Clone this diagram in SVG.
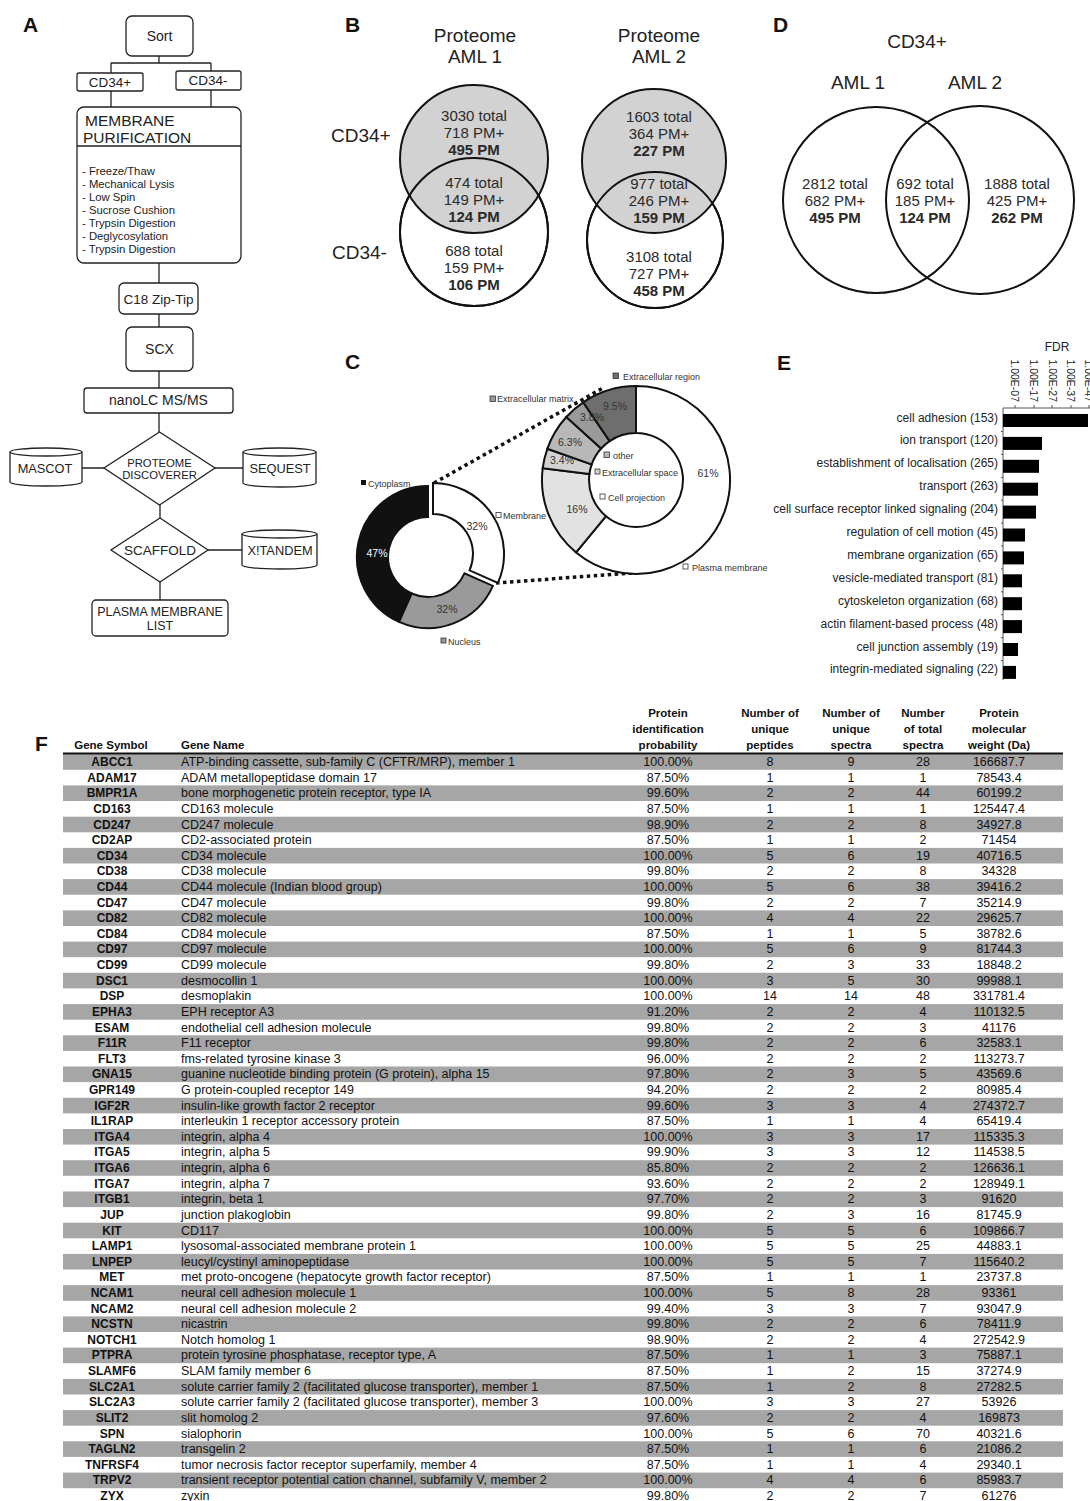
<svg xmlns="http://www.w3.org/2000/svg" width="1090" height="1501" viewBox="0 0 1090 1501">
<style>
.t{font-family:'Liberation Sans',Arial,sans-serif;fill:#222}
.lbl{font-family:'Liberation Sans',Arial,sans-serif;font-weight:bold;font-size:21px;fill:#111}
.box{fill:#fff;stroke:#222;stroke-width:1.3}
.conn{stroke:#222;stroke-width:1.3;fill:none}
.mid{text-anchor:middle}
.v{font-family:'Liberation Sans',Arial,sans-serif;font-size:15px;fill:#2a2a2a;text-anchor:middle}
.vb{font-weight:bold}
.c{font-family:'Liberation Sans',Arial,sans-serif;font-size:9px;fill:#333}
.pc{font-family:'Liberation Sans',Arial,sans-serif;font-size:10.5px;fill:#333;text-anchor:middle}
.sl{stroke:#111;stroke-width:2}
.e{font-family:'Liberation Sans',Arial,sans-serif;font-size:12px;fill:#222;text-anchor:end}
.tk{font-family:'Liberation Sans',Arial,sans-serif;font-size:10.5px;fill:#222;text-anchor:end}
.tb{font-family:'Liberation Sans',Arial,sans-serif;font-size:12.5px;fill:#111}
.sy{font-weight:bold;text-anchor:middle;font-size:12px}
.n{text-anchor:middle}
.hd{font-family:'Liberation Sans',Arial,sans-serif;font-size:11.5px;font-weight:bold;fill:#111;text-anchor:middle}
.sh{fill:#a6a6a6}
</style>
<rect width="1090" height="1501" fill="#fff"/>

<!-- Panel letters -->
<text class="lbl" x="23" y="32">A</text>
<text class="lbl" x="345" y="32">B</text>
<text class="lbl" x="773" y="32">D</text>
<text class="lbl" x="345" y="369">C</text>
<text class="lbl" x="777" y="370">E</text>
<text class="lbl" x="35" y="751">F</text>

<!-- Panel A connectors -->
<g id="connectors">
<path class="conn" d="M159,56 V63 M111,63 H211 M111,63 V73 M211,63 V71"/>
<path class="conn" d="M111,91 V107 M211,90 V107"/>
<path class="conn" d="M159,263 V283 M159,314 V327 M159,371 V388 M159,413 V432"/>
<path class="conn" d="M82,468 H104 M215,468 H243"/>
<path class="conn" d="M160,505 V518 M208,550 H242 M160,582 V600"/>
</g>

<!-- Panel A nodes -->
<g id="sort"><rect class="box" x="126" y="16" width="67" height="40" rx="6"/><text class="t mid" x="159.5" y="41" font-size="14">Sort</text></g>
<g id="cd34pos"><rect class="box" x="77" y="73" width="66" height="18" rx="2"/><text class="t mid" x="110" y="87" font-size="13.5">CD34+</text></g>
<g id="cd34neg"><rect class="box" x="176" y="71" width="65" height="19" rx="2"/><text class="t mid" x="208" y="85" font-size="13.5">CD34-</text></g>
<g id="membrane-purification">
<rect class="box" x="77" y="107" width="164" height="156" rx="7"/>
<line x1="77" y1="146" x2="241" y2="146" stroke="#222" stroke-width="1.3"/>
<text class="t" x="85" y="126" font-size="15.5">MEMBRANE</text>
<text class="t" x="83" y="143" font-size="15.5">PURIFICATION</text>
<g class="t" font-size="11.3">
<text x="82" y="175">- Freeze/Thaw</text>
<text x="82" y="188">- Mechanical Lysis</text>
<text x="82" y="201">- Low Spin</text>
<text x="82" y="214">- Sucrose Cushion</text>
<text x="82" y="227">- Trypsin Digestion</text>
<text x="82" y="240">- Deglycosylation</text>
<text x="82" y="253">- Trypsin Digestion</text>
</g>
</g>
<g id="c18"><rect class="box" x="119" y="283" width="79" height="31" rx="5"/><text class="t mid" x="158.5" y="304" font-size="13.5">C18 Zip-Tip</text></g>
<g id="scx"><rect class="box" x="126" y="327" width="67" height="44" rx="6"/><text class="t mid" x="159.5" y="354" font-size="14">SCX</text></g>
<g id="nanolc"><rect class="box" x="84" y="388" width="149" height="25" rx="3"/><text class="t mid" x="158.5" y="405" font-size="14">nanoLC MS/MS</text></g>
<g id="proteome-discoverer"><polygon class="box" points="159.5,432 215,468 159.5,505 104,468"/><text class="t mid" x="159.5" y="467" font-size="11.3">PROTEOME</text><text class="t mid" x="159.5" y="479" font-size="11.3">DISCOVERER</text></g>
<g id="mascot"><path class="box" d="M10,452 A36,4 0 0 1 82,452 L82,482 A36,4 0 0 1 10,482 Z"/><path class="conn" d="M10,452 A36,4 0 0 0 82,452"/><text class="t mid" x="45" y="473" font-size="12.8">MASCOT</text></g>
<g id="sequest"><path class="box" d="M243,452 A36.5,4 0 0 1 316,452 L316,483 A36.5,4 0 0 1 243,483 Z"/><path class="conn" d="M243,452 A36.5,4 0 0 0 316,452"/><text class="t mid" x="280" y="473" font-size="12.8">SEQUEST</text></g>
<g id="scaffold"><polygon class="box" points="160,518 208,550 160,582 111,550"/><text class="t mid" x="160" y="555" font-size="13.5">SCAFFOLD</text></g>
<g id="xtandem"><path class="box" d="M242,534 A37.5,4 0 0 1 317,534 L317,565 A37.5,4 0 0 1 242,565 Z"/><path class="conn" d="M242,534 A37.5,4 0 0 0 317,534"/><text class="t mid" x="280" y="555" font-size="12.8">X!TANDEM</text></g>
<g id="pm-list"><rect class="box" x="92" y="600" width="136" height="36" rx="4"/><text class="t mid" x="160" y="616" font-size="12.5">PLASMA MEMBRANE</text><text class="t mid" x="160" y="630" font-size="12.5">LIST</text></g>

<!-- Panel B -->
<g id="panel-b">
<text class="t mid" x="475" y="42" font-size="19">Proteome</text>
<text class="t mid" x="475" y="63" font-size="19">AML 1</text>
<text class="t mid" x="659" y="42" font-size="19">Proteome</text>
<text class="t mid" x="659" y="63" font-size="19">AML 2</text>
<text class="t" x="331" y="142" font-size="19">CD34+</text>
<text class="t" x="332" y="259" font-size="19">CD34-</text>
<circle cx="474" cy="232" r="74" fill="#fff" stroke="#111" stroke-width="2"/>
<circle cx="474" cy="159" r="74" fill="#d2d2d2" stroke="#111" stroke-width="2"/>
<circle cx="474" cy="232" r="74" fill="none" stroke="#111" stroke-width="2"/>
<circle cx="655" cy="240" r="68" fill="#fff" stroke="#111" stroke-width="2"/>
<circle cx="654" cy="161" r="72" fill="#d2d2d2" stroke="#111" stroke-width="2"/>
<circle cx="655" cy="240" r="68" fill="none" stroke="#111" stroke-width="2"/>
<text class="v" x="474" y="121">3030 total</text>
<text class="v" x="474" y="138">718 PM+</text>
<text class="v vb" x="474" y="155">495 PM</text>
<text class="v" x="474" y="188">474 total</text>
<text class="v" x="474" y="205">149 PM+</text>
<text class="v vb" x="474" y="222">124 PM</text>
<text class="v" x="474" y="256">688 total</text>
<text class="v" x="474" y="273">159 PM+</text>
<text class="v vb" x="474" y="290">106 PM</text>
<text class="v" x="659" y="122">1603 total</text>
<text class="v" x="659" y="139">364 PM+</text>
<text class="v vb" x="659" y="156">227 PM</text>
<text class="v" x="659" y="189">977 total</text>
<text class="v" x="659" y="206">246 PM+</text>
<text class="v vb" x="659" y="223">159 PM</text>
<text class="v" x="659" y="262">3108 total</text>
<text class="v" x="659" y="279">727 PM+</text>
<text class="v vb" x="659" y="296">458 PM</text>
</g>

<!-- Panel D -->
<g id="panel-d">
<text class="t mid" x="917" y="48" font-size="19">CD34+</text>
<text class="t mid" x="858" y="89" font-size="19">AML 1</text>
<text class="t mid" x="975" y="89" font-size="19">AML 2</text>
<circle cx="876" cy="200" r="93" fill="none" stroke="#111" stroke-width="2"/>
<circle cx="980" cy="200" r="94" fill="none" stroke="#111" stroke-width="2"/>
<text class="v" x="835" y="189">2812 total</text>
<text class="v" x="835" y="206">682 PM+</text>
<text class="v vb" x="835" y="223">495 PM</text>
<text class="v" x="925" y="189">692 total</text>
<text class="v" x="925" y="206">185 PM+</text>
<text class="v vb" x="925" y="223">124 PM</text>
<text class="v" x="1017" y="189">1888 total</text>
<text class="v" x="1017" y="206">425 PM+</text>
<text class="v vb" x="1017" y="223">262 PM</text>
</g>

<!-- Panel C -->
<g id="panel-c">
<path d="M434,483 L603,388 M496,583 L645,572" stroke="#111" stroke-width="3.5" stroke-dasharray="3.5 3.5" fill="none"/>
<path class="sl" fill="#111" d="M399.1,621.9 A71,71 0 0 1 428,486 L428,517 A40,40 0 0 0 411.7,593.5 Z"/>
<path class="sl" fill="#9a9a9a" d="M492.9,585.9 A71,71 0 0 1 399.1,621.9 L411.7,593.5 A40,40 0 0 0 464.5,573.3 Z"/>
<path class="sl" fill="#fff" transform="translate(5,-3)" d="M428,486 A71,71 0 0 1 492.9,585.9 L464.5,573.3 A40,40 0 0 0 428,517 Z"/>
<text class="pc" x="377" y="557" style="fill:#fff">47%</text>
<text class="pc" x="477" y="530">32%</text>
<text class="pc" x="447" y="613">32%</text>
<rect x="361" y="480" width="5" height="5" fill="#111"/>
<text class="c" x="368" y="487">Cytoplasm</text>
<rect x="496" y="512.5" width="5" height="5" fill="#fff" stroke="#333" stroke-width="0.8"/>
<text class="c" x="503" y="519">Membrane</text>
<rect x="441" y="638" width="5" height="5" fill="#9a9a9a" stroke="#333" stroke-width="0.8"/>
<text class="c" x="448" y="645">Nucleus</text>

<path class="sl" fill="#fff" d="M636,386 A94,94 0 1 1 576.1,552.4 L606,516.2 A47,47 0 1 0 636,433 Z"/>
<path class="sl" fill="#e2e2e2" d="M576.1,552.4 A94,94 0 0 1 542.7,468.2 L589.4,474.1 A47,47 0 0 0 606,516.2 Z"/>
<path class="sl" fill="#d2d2d2" d="M542.7,468.2 A94,94 0 0 1 547.3,448.8 L591.7,464.4 A47,47 0 0 0 589.4,474.1 Z"/>
<path class="sl" fill="#b8b8b8" d="M547.3,448.8 A94,94 0 0 1 566.3,417 L601.1,448.5 A47,47 0 0 0 591.7,464.4 Z"/>
<path class="sl" fill="#9a9a9a" d="M566.3,417 A94,94 0 0 1 583.2,402.3 L609.6,441.1 A47,47 0 0 0 601.1,448.5 Z"/>
<path class="sl" fill="#6e6e6e" d="M583.2,402.3 A94,94 0 0 1 636,386 L636,433 A47,47 0 0 0 609.6,441.1 Z"/>
<text class="pc" x="615" y="410">9.5%</text>
<text class="pc" x="592" y="421">3.8%</text>
<text class="pc" x="570" y="446">6.3%</text>
<text class="pc" x="562" y="464">3.4%</text>
<text class="pc" x="577" y="513">16%</text>
<text class="pc" x="708" y="477">61%</text>
<rect x="613" y="373" width="5.5" height="5.5" fill="#6e6e6e" stroke="#333" stroke-width="0.8"/>
<text class="c" x="623" y="380">Extracellular region</text>
<rect x="490" y="396" width="5.5" height="5.5" fill="#9a9a9a" stroke="#333" stroke-width="0.8"/>
<text class="c" x="497" y="402">Extracellular matrix</text>
<rect x="604" y="452" width="5.5" height="5.5" fill="#b8b8b8" stroke="#333" stroke-width="0.8"/>
<text class="c" x="613" y="459">other</text>
<rect x="595" y="469" width="5" height="5" fill="#d2d2d2" stroke="#333" stroke-width="0.8"/>
<text class="c" x="602" y="476">Extracellular space</text>
<rect x="600" y="494" width="5" height="5" fill="#fff" stroke="#333" stroke-width="0.8"/>
<text class="c" x="608" y="501">Cell projection</text>
<rect x="683" y="564" width="5" height="5" fill="#fff" stroke="#333" stroke-width="0.8"/>
<text class="c" x="692" y="571">Plasma membrane</text>
</g>

<!-- Panel E -->
<g id="panel-e">
<text class="t mid" x="1057" y="351" font-size="12">FDR</text>
<text class="tk" transform="translate(1011,402) rotate(90)">1.00E-07</text>
<text class="tk" transform="translate(1030,402) rotate(90)">1.00E-17</text>
<text class="tk" transform="translate(1049,402) rotate(90)">1.00E-27</text>
<text class="tk" transform="translate(1067,402) rotate(90)">1.00E-37</text>
<text class="tk" transform="translate(1085,402) rotate(90)">1.00E-47</text>
<path d="M1003,408 H1090 M1015,405 V408 M1034,405 V408 M1052,405 V408 M1071,405 V408 M1089,405 V408 M1003,408 V680" stroke="#555" stroke-width="1" fill="none"/>
<path d="M1001,431.5 H1003 M1001,454.4 H1003 M1001,477.3 H1003 M1001,500.2 H1003 M1001,523.1 H1003 M1001,546 H1003 M1001,568.9 H1003 M1001,591.8 H1003 M1001,614.7 H1003 M1001,637.6 H1003 M1001,660.5 H1003" stroke="#555" stroke-width="1"/>
<g fill="#000">
<rect x="1003" y="414" width="85" height="13"/>
<rect x="1003" y="436.9" width="39" height="13"/>
<rect x="1003" y="459.8" width="36" height="13"/>
<rect x="1003" y="482.7" width="35" height="13"/>
<rect x="1003" y="505.6" width="33" height="13"/>
<rect x="1003" y="528.5" width="22" height="13"/>
<rect x="1003" y="551.4" width="21" height="13"/>
<rect x="1003" y="574.3" width="19" height="13"/>
<rect x="1003" y="597.2" width="19" height="13"/>
<rect x="1003" y="620.1" width="19" height="13"/>
<rect x="1003" y="643" width="15" height="13"/>
<rect x="1003" y="665.9" width="13" height="13"/>
</g>
<text class="e" x="998" y="421.5">cell adhesion (153)</text>
<text class="e" x="998" y="444.4">ion transport (120)</text>
<text class="e" x="998" y="467.3">establishment of localisation (265)</text>
<text class="e" x="998" y="490.2">transport (263)</text>
<text class="e" x="998" y="513.1">cell surface receptor linked signaling (204)</text>
<text class="e" x="998" y="536">regulation of cell motion (45)</text>
<text class="e" x="998" y="558.9">membrane organization (65)</text>
<text class="e" x="998" y="581.8">vesicle-mediated transport (81)</text>
<text class="e" x="998" y="604.7">cytoskeleton organization (68)</text>
<text class="e" x="998" y="627.6">actin filament-based process (48)</text>
<text class="e" x="998" y="650.5">cell junction assembly (19)</text>
<text class="e" x="998" y="673.4">integrin-mediated signaling (22)</text>
</g>

<!-- Panel F table -->
<g id="table">
<text class="hd" x="668" y="717">Protein</text>
<text class="hd" x="668" y="733">identification</text>
<text class="hd" x="668" y="749">probability</text>
<text class="hd" x="770" y="717">Number of</text>
<text class="hd" x="770" y="733">unique</text>
<text class="hd" x="770" y="749">peptides</text>
<text class="hd" x="851" y="717">Number of</text>
<text class="hd" x="851" y="733">unique</text>
<text class="hd" x="851" y="749">spectra</text>
<text class="hd" x="923" y="717">Number</text>
<text class="hd" x="923" y="733">of total</text>
<text class="hd" x="923" y="749">spectra</text>
<text class="hd" x="999" y="717">Protein</text>
<text class="hd" x="999" y="733">molecular</text>
<text class="hd" x="999" y="749">weight (Da)</text>
<text class="hd" x="111" y="749">Gene Symbol</text>
<text class="hd" x="181" y="749" style="text-anchor:start">Gene Name</text>
<g id="shading">
<rect class="sh" x="63" y="754.2" width="1000" height="15.6"/>
<rect class="sh" x="63" y="785.4" width="1000" height="15.6"/>
<rect class="sh" x="63" y="816.7" width="1000" height="15.6"/>
<rect class="sh" x="63" y="847.9" width="1000" height="15.6"/>
<rect class="sh" x="63" y="879.1" width="1000" height="15.6"/>
<rect class="sh" x="63" y="910.4" width="1000" height="15.6"/>
<rect class="sh" x="63" y="941.6" width="1000" height="15.6"/>
<rect class="sh" x="63" y="972.8" width="1000" height="15.6"/>
<rect class="sh" x="63" y="1004.1" width="1000" height="15.6"/>
<rect class="sh" x="63" y="1035.3" width="1000" height="15.6"/>
<rect class="sh" x="63" y="1066.5" width="1000" height="15.6"/>
<rect class="sh" x="63" y="1097.8" width="1000" height="15.6"/>
<rect class="sh" x="63" y="1129" width="1000" height="15.6"/>
<rect class="sh" x="63" y="1160.2" width="1000" height="15.6"/>
<rect class="sh" x="63" y="1191.5" width="1000" height="15.6"/>
<rect class="sh" x="63" y="1222.7" width="1000" height="15.6"/>
<rect class="sh" x="63" y="1253.9" width="1000" height="15.6"/>
<rect class="sh" x="63" y="1285.2" width="1000" height="15.6"/>
<rect class="sh" x="63" y="1316.4" width="1000" height="15.6"/>
<rect class="sh" x="63" y="1347.6" width="1000" height="15.6"/>
<rect class="sh" x="63" y="1378.9" width="1000" height="15.6"/>
<rect class="sh" x="63" y="1410.1" width="1000" height="15.6"/>
<rect class="sh" x="63" y="1441.3" width="1000" height="15.6"/>
<rect class="sh" x="63" y="1472.6" width="1000" height="15.6"/>
</g>
<line x1="63" y1="753.5" x2="1063" y2="753.5" stroke="#111" stroke-width="2"/>
<g class="tb">
<text class="sy" x="112" y="766">ABCC1</text><text x="181" y="766">ATP-binding cassette, sub-family C (CFTR/MRP), member 1</text><text class="n" x="668" y="766">100.00%</text><text class="n" x="770" y="766">8</text><text class="n" x="851" y="766">9</text><text class="n" x="923" y="766">28</text><text class="n" x="999" y="766">166687.7</text>
<text class="sy" x="112" y="781.6">ADAM17</text><text x="181" y="781.6">ADAM metallopeptidase domain 17</text><text class="n" x="668" y="781.6">87.50%</text><text class="n" x="770" y="781.6">1</text><text class="n" x="851" y="781.6">1</text><text class="n" x="923" y="781.6">1</text><text class="n" x="999" y="781.6">78543.4</text>
<text class="sy" x="112" y="797.2">BMPR1A</text><text x="181" y="797.2">bone morphogenetic protein receptor, type IA</text><text class="n" x="668" y="797.2">99.60%</text><text class="n" x="770" y="797.2">2</text><text class="n" x="851" y="797.2">2</text><text class="n" x="923" y="797.2">44</text><text class="n" x="999" y="797.2">60199.2</text>
<text class="sy" x="112" y="812.9">CD163</text><text x="181" y="812.9">CD163 molecule</text><text class="n" x="668" y="812.9">87.50%</text><text class="n" x="770" y="812.9">1</text><text class="n" x="851" y="812.9">1</text><text class="n" x="923" y="812.9">1</text><text class="n" x="999" y="812.9">125447.4</text>
<text class="sy" x="112" y="828.5">CD247</text><text x="181" y="828.5">CD247 molecule</text><text class="n" x="668" y="828.5">98.90%</text><text class="n" x="770" y="828.5">2</text><text class="n" x="851" y="828.5">2</text><text class="n" x="923" y="828.5">8</text><text class="n" x="999" y="828.5">34927.8</text>
<text class="sy" x="112" y="844.1">CD2AP</text><text x="181" y="844.1">CD2-associated protein</text><text class="n" x="668" y="844.1">87.50%</text><text class="n" x="770" y="844.1">1</text><text class="n" x="851" y="844.1">1</text><text class="n" x="923" y="844.1">2</text><text class="n" x="999" y="844.1">71454</text>
<text class="sy" x="112" y="859.7">CD34</text><text x="181" y="859.7">CD34 molecule</text><text class="n" x="668" y="859.7">100.00%</text><text class="n" x="770" y="859.7">5</text><text class="n" x="851" y="859.7">6</text><text class="n" x="923" y="859.7">19</text><text class="n" x="999" y="859.7">40716.5</text>
<text class="sy" x="112" y="875.3">CD38</text><text x="181" y="875.3">CD38 molecule</text><text class="n" x="668" y="875.3">99.80%</text><text class="n" x="770" y="875.3">2</text><text class="n" x="851" y="875.3">2</text><text class="n" x="923" y="875.3">8</text><text class="n" x="999" y="875.3">34328</text>
<text class="sy" x="112" y="890.9">CD44</text><text x="181" y="890.9">CD44 molecule (Indian blood group)</text><text class="n" x="668" y="890.9">100.00%</text><text class="n" x="770" y="890.9">5</text><text class="n" x="851" y="890.9">6</text><text class="n" x="923" y="890.9">38</text><text class="n" x="999" y="890.9">39416.2</text>
<text class="sy" x="112" y="906.6">CD47</text><text x="181" y="906.6">CD47 molecule</text><text class="n" x="668" y="906.6">99.80%</text><text class="n" x="770" y="906.6">2</text><text class="n" x="851" y="906.6">2</text><text class="n" x="923" y="906.6">7</text><text class="n" x="999" y="906.6">35214.9</text>
<text class="sy" x="112" y="922.2">CD82</text><text x="181" y="922.2">CD82 molecule</text><text class="n" x="668" y="922.2">100.00%</text><text class="n" x="770" y="922.2">4</text><text class="n" x="851" y="922.2">4</text><text class="n" x="923" y="922.2">22</text><text class="n" x="999" y="922.2">29625.7</text>
<text class="sy" x="112" y="937.8">CD84</text><text x="181" y="937.8">CD84 molecule</text><text class="n" x="668" y="937.8">87.50%</text><text class="n" x="770" y="937.8">1</text><text class="n" x="851" y="937.8">1</text><text class="n" x="923" y="937.8">5</text><text class="n" x="999" y="937.8">38782.6</text>
<text class="sy" x="112" y="953.4">CD97</text><text x="181" y="953.4">CD97 molecule</text><text class="n" x="668" y="953.4">100.00%</text><text class="n" x="770" y="953.4">5</text><text class="n" x="851" y="953.4">6</text><text class="n" x="923" y="953.4">9</text><text class="n" x="999" y="953.4">81744.3</text>
<text class="sy" x="112" y="969">CD99</text><text x="181" y="969">CD99 molecule</text><text class="n" x="668" y="969">99.80%</text><text class="n" x="770" y="969">2</text><text class="n" x="851" y="969">3</text><text class="n" x="923" y="969">33</text><text class="n" x="999" y="969">18848.2</text>
<text class="sy" x="112" y="984.6">DSC1</text><text x="181" y="984.6">desmocollin 1</text><text class="n" x="668" y="984.6">100.00%</text><text class="n" x="770" y="984.6">3</text><text class="n" x="851" y="984.6">5</text><text class="n" x="923" y="984.6">30</text><text class="n" x="999" y="984.6">99988.1</text>
<text class="sy" x="112" y="1000.3">DSP</text><text x="181" y="1000.3">desmoplakin</text><text class="n" x="668" y="1000.3">100.00%</text><text class="n" x="770" y="1000.3">14</text><text class="n" x="851" y="1000.3">14</text><text class="n" x="923" y="1000.3">48</text><text class="n" x="999" y="1000.3">331781.4</text>
<text class="sy" x="112" y="1015.9">EPHA3</text><text x="181" y="1015.9">EPH receptor A3</text><text class="n" x="668" y="1015.9">91.20%</text><text class="n" x="770" y="1015.9">2</text><text class="n" x="851" y="1015.9">2</text><text class="n" x="923" y="1015.9">4</text><text class="n" x="999" y="1015.9">110132.5</text>
<text class="sy" x="112" y="1031.5">ESAM</text><text x="181" y="1031.5">endothelial cell adhesion molecule</text><text class="n" x="668" y="1031.5">99.80%</text><text class="n" x="770" y="1031.5">2</text><text class="n" x="851" y="1031.5">2</text><text class="n" x="923" y="1031.5">3</text><text class="n" x="999" y="1031.5">41176</text>
<text class="sy" x="112" y="1047.1">F11R</text><text x="181" y="1047.1">F11 receptor</text><text class="n" x="668" y="1047.1">99.80%</text><text class="n" x="770" y="1047.1">2</text><text class="n" x="851" y="1047.1">2</text><text class="n" x="923" y="1047.1">6</text><text class="n" x="999" y="1047.1">32583.1</text>
<text class="sy" x="112" y="1062.7">FLT3</text><text x="181" y="1062.7">fms-related tyrosine kinase 3</text><text class="n" x="668" y="1062.7">96.00%</text><text class="n" x="770" y="1062.7">2</text><text class="n" x="851" y="1062.7">2</text><text class="n" x="923" y="1062.7">2</text><text class="n" x="999" y="1062.7">113273.7</text>
<text class="sy" x="112" y="1078.3">GNA15</text><text x="181" y="1078.3">guanine nucleotide binding protein (G protein), alpha 15</text><text class="n" x="668" y="1078.3">97.80%</text><text class="n" x="770" y="1078.3">2</text><text class="n" x="851" y="1078.3">3</text><text class="n" x="923" y="1078.3">5</text><text class="n" x="999" y="1078.3">43569.6</text>
<text class="sy" x="112" y="1094">GPR149</text><text x="181" y="1094">G protein-coupled receptor 149</text><text class="n" x="668" y="1094">94.20%</text><text class="n" x="770" y="1094">2</text><text class="n" x="851" y="1094">2</text><text class="n" x="923" y="1094">2</text><text class="n" x="999" y="1094">80985.4</text>
<text class="sy" x="112" y="1109.6">IGF2R</text><text x="181" y="1109.6">insulin-like growth factor 2 receptor</text><text class="n" x="668" y="1109.6">99.60%</text><text class="n" x="770" y="1109.6">3</text><text class="n" x="851" y="1109.6">3</text><text class="n" x="923" y="1109.6">4</text><text class="n" x="999" y="1109.6">274372.7</text>
<text class="sy" x="112" y="1125.2">IL1RAP</text><text x="181" y="1125.2">interleukin 1 receptor accessory protein</text><text class="n" x="668" y="1125.2">87.50%</text><text class="n" x="770" y="1125.2">1</text><text class="n" x="851" y="1125.2">1</text><text class="n" x="923" y="1125.2">4</text><text class="n" x="999" y="1125.2">65419.4</text>
<text class="sy" x="112" y="1140.8">ITGA4</text><text x="181" y="1140.8">integrin, alpha 4</text><text class="n" x="668" y="1140.8">100.00%</text><text class="n" x="770" y="1140.8">3</text><text class="n" x="851" y="1140.8">3</text><text class="n" x="923" y="1140.8">17</text><text class="n" x="999" y="1140.8">115335.3</text>
<text class="sy" x="112" y="1156.4">ITGA5</text><text x="181" y="1156.4">integrin, alpha 5</text><text class="n" x="668" y="1156.4">99.90%</text><text class="n" x="770" y="1156.4">3</text><text class="n" x="851" y="1156.4">3</text><text class="n" x="923" y="1156.4">12</text><text class="n" x="999" y="1156.4">114538.5</text>
<text class="sy" x="112" y="1172">ITGA6</text><text x="181" y="1172">integrin, alpha 6</text><text class="n" x="668" y="1172">85.80%</text><text class="n" x="770" y="1172">2</text><text class="n" x="851" y="1172">2</text><text class="n" x="923" y="1172">2</text><text class="n" x="999" y="1172">126636.1</text>
<text class="sy" x="112" y="1187.7">ITGA7</text><text x="181" y="1187.7">integrin, alpha 7</text><text class="n" x="668" y="1187.7">93.60%</text><text class="n" x="770" y="1187.7">2</text><text class="n" x="851" y="1187.7">2</text><text class="n" x="923" y="1187.7">2</text><text class="n" x="999" y="1187.7">128949.1</text>
<text class="sy" x="112" y="1203.3">ITGB1</text><text x="181" y="1203.3">integrin, beta 1</text><text class="n" x="668" y="1203.3">97.70%</text><text class="n" x="770" y="1203.3">2</text><text class="n" x="851" y="1203.3">2</text><text class="n" x="923" y="1203.3">3</text><text class="n" x="999" y="1203.3">91620</text>
<text class="sy" x="112" y="1218.9">JUP</text><text x="181" y="1218.9">junction plakoglobin</text><text class="n" x="668" y="1218.9">99.80%</text><text class="n" x="770" y="1218.9">2</text><text class="n" x="851" y="1218.9">3</text><text class="n" x="923" y="1218.9">16</text><text class="n" x="999" y="1218.9">81745.9</text>
<text class="sy" x="112" y="1234.5">KIT</text><text x="181" y="1234.5">CD117</text><text class="n" x="668" y="1234.5">100.00%</text><text class="n" x="770" y="1234.5">5</text><text class="n" x="851" y="1234.5">5</text><text class="n" x="923" y="1234.5">6</text><text class="n" x="999" y="1234.5">109866.7</text>
<text class="sy" x="112" y="1250.1">LAMP1</text><text x="181" y="1250.1">lysosomal-associated membrane protein 1</text><text class="n" x="668" y="1250.1">100.00%</text><text class="n" x="770" y="1250.1">5</text><text class="n" x="851" y="1250.1">5</text><text class="n" x="923" y="1250.1">25</text><text class="n" x="999" y="1250.1">44883.1</text>
<text class="sy" x="112" y="1265.7">LNPEP</text><text x="181" y="1265.7">leucyl/cystinyl aminopeptidase</text><text class="n" x="668" y="1265.7">100.00%</text><text class="n" x="770" y="1265.7">5</text><text class="n" x="851" y="1265.7">5</text><text class="n" x="923" y="1265.7">7</text><text class="n" x="999" y="1265.7">115640.2</text>
<text class="sy" x="112" y="1281.4">MET</text><text x="181" y="1281.4">met proto-oncogene (hepatocyte growth factor receptor)</text><text class="n" x="668" y="1281.4">87.50%</text><text class="n" x="770" y="1281.4">1</text><text class="n" x="851" y="1281.4">1</text><text class="n" x="923" y="1281.4">1</text><text class="n" x="999" y="1281.4">23737.8</text>
<text class="sy" x="112" y="1297">NCAM1</text><text x="181" y="1297">neural cell adhesion molecule 1</text><text class="n" x="668" y="1297">100.00%</text><text class="n" x="770" y="1297">5</text><text class="n" x="851" y="1297">8</text><text class="n" x="923" y="1297">28</text><text class="n" x="999" y="1297">93361</text>
<text class="sy" x="112" y="1312.6">NCAM2</text><text x="181" y="1312.6">neural cell adhesion molecule 2</text><text class="n" x="668" y="1312.6">99.40%</text><text class="n" x="770" y="1312.6">3</text><text class="n" x="851" y="1312.6">3</text><text class="n" x="923" y="1312.6">7</text><text class="n" x="999" y="1312.6">93047.9</text>
<text class="sy" x="112" y="1328.2">NCSTN</text><text x="181" y="1328.2">nicastrin</text><text class="n" x="668" y="1328.2">99.80%</text><text class="n" x="770" y="1328.2">2</text><text class="n" x="851" y="1328.2">2</text><text class="n" x="923" y="1328.2">6</text><text class="n" x="999" y="1328.2">78411.9</text>
<text class="sy" x="112" y="1343.8">NOTCH1</text><text x="181" y="1343.8">Notch homolog 1</text><text class="n" x="668" y="1343.8">98.90%</text><text class="n" x="770" y="1343.8">2</text><text class="n" x="851" y="1343.8">2</text><text class="n" x="923" y="1343.8">4</text><text class="n" x="999" y="1343.8">272542.9</text>
<text class="sy" x="112" y="1359.4">PTPRA</text><text x="181" y="1359.4">protein tyrosine phosphatase, receptor type, A</text><text class="n" x="668" y="1359.4">87.50%</text><text class="n" x="770" y="1359.4">1</text><text class="n" x="851" y="1359.4">1</text><text class="n" x="923" y="1359.4">3</text><text class="n" x="999" y="1359.4">75887.1</text>
<text class="sy" x="112" y="1375.1">SLAMF6</text><text x="181" y="1375.1">SLAM family member 6</text><text class="n" x="668" y="1375.1">87.50%</text><text class="n" x="770" y="1375.1">1</text><text class="n" x="851" y="1375.1">2</text><text class="n" x="923" y="1375.1">15</text><text class="n" x="999" y="1375.1">37274.9</text>
<text class="sy" x="112" y="1390.7">SLC2A1</text><text x="181" y="1390.7">solute carrier family 2 (facilitated glucose transporter), member 1</text><text class="n" x="668" y="1390.7">87.50%</text><text class="n" x="770" y="1390.7">1</text><text class="n" x="851" y="1390.7">2</text><text class="n" x="923" y="1390.7">8</text><text class="n" x="999" y="1390.7">27282.5</text>
<text class="sy" x="112" y="1406.3">SLC2A3</text><text x="181" y="1406.3">solute carrier family 2 (facilitated glucose transporter), member 3</text><text class="n" x="668" y="1406.3">100.00%</text><text class="n" x="770" y="1406.3">3</text><text class="n" x="851" y="1406.3">3</text><text class="n" x="923" y="1406.3">27</text><text class="n" x="999" y="1406.3">53926</text>
<text class="sy" x="112" y="1421.9">SLIT2</text><text x="181" y="1421.9">slit homolog 2</text><text class="n" x="668" y="1421.9">97.60%</text><text class="n" x="770" y="1421.9">2</text><text class="n" x="851" y="1421.9">2</text><text class="n" x="923" y="1421.9">4</text><text class="n" x="999" y="1421.9">169873</text>
<text class="sy" x="112" y="1437.5">SPN</text><text x="181" y="1437.5">sialophorin</text><text class="n" x="668" y="1437.5">100.00%</text><text class="n" x="770" y="1437.5">5</text><text class="n" x="851" y="1437.5">6</text><text class="n" x="923" y="1437.5">70</text><text class="n" x="999" y="1437.5">40321.6</text>
<text class="sy" x="112" y="1453.1">TAGLN2</text><text x="181" y="1453.1">transgelin 2</text><text class="n" x="668" y="1453.1">87.50%</text><text class="n" x="770" y="1453.1">1</text><text class="n" x="851" y="1453.1">1</text><text class="n" x="923" y="1453.1">6</text><text class="n" x="999" y="1453.1">21086.2</text>
<text class="sy" x="112" y="1468.8">TNFRSF4</text><text x="181" y="1468.8">tumor necrosis factor receptor superfamily, member 4</text><text class="n" x="668" y="1468.8">87.50%</text><text class="n" x="770" y="1468.8">1</text><text class="n" x="851" y="1468.8">1</text><text class="n" x="923" y="1468.8">4</text><text class="n" x="999" y="1468.8">29340.1</text>
<text class="sy" x="112" y="1484.4">TRPV2</text><text x="181" y="1484.4">transient receptor potential cation channel, subfamily V, member 2</text><text class="n" x="668" y="1484.4">100.00%</text><text class="n" x="770" y="1484.4">4</text><text class="n" x="851" y="1484.4">4</text><text class="n" x="923" y="1484.4">6</text><text class="n" x="999" y="1484.4">85983.7</text>
<text class="sy" x="112" y="1500">ZYX</text><text x="181" y="1500">zyxin</text><text class="n" x="668" y="1500">99.80%</text><text class="n" x="770" y="1500">2</text><text class="n" x="851" y="1500">2</text><text class="n" x="923" y="1500">7</text><text class="n" x="999" y="1500">61276</text>
</g>
</g>
</svg>
